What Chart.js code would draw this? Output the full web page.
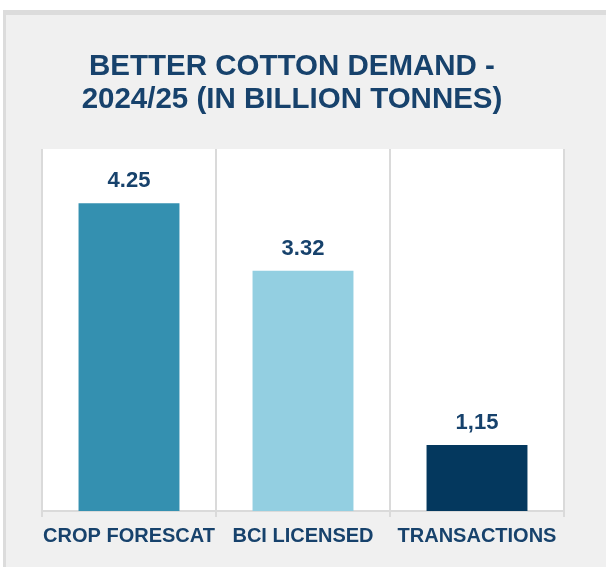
<!DOCTYPE html>
<html>
<head>
<meta charset="utf-8">
<script src="https://cdn.jsdelivr.net/npm/chart.js@4"></script>
<style>
html,body{margin:0;padding:0;background:#ffffff;}
#wrap{width:606px;height:567px;}
</style>
</head>
<body>
<div id="wrap"><canvas id="c" width="606" height="567"></canvas></div>
<script>
const titleLines = ["BETTER COTTON DEMAND -", "2024/25 (IN BILLION TONNES)"];
const categories = ["CROP FORESCAT", "BCI LICENSED", "TRANSACTIONS"];
const values = [4.25, 3.32, 0.91];
const valueLabels = ["4.25", "3.32", "1,15"];
const barColors = ["#3490b0", "#93cfe1", "#04385e"];

const FONT = "'Liberation Sans', Arial, sans-serif";
const TEXT = "#17426c";

const panelPlugin = {
  id: "panel",
  beforeDraw(chart) {
    const ctx = chart.ctx;
    ctx.save();
    ctx.fillStyle = "#ffffff";
    ctx.fillRect(0, 0, chart.width, chart.height);
    ctx.fillStyle = "#dcdcdc";
    ctx.fillRect(3, 10, chart.width - 3, chart.height - 10);
    ctx.fillStyle = "#f0f0f0";
    ctx.fillRect(6, 15, chart.width - 6, chart.height - 15);
    const a = chart.chartArea;
    ctx.fillStyle = "#ffffff";
    ctx.fillRect(a.left, a.top, a.right - a.left, a.bottom - a.top);
    ctx.restore();
  },
  afterDraw(chart) {
    const ctx = chart.ctx;
    ctx.save();
    ctx.fillStyle = TEXT;
    ctx.font = "bold 29.5px " + FONT;
    ctx.textAlign = "center";
    ctx.textBaseline = "middle";
    titleLines.forEach((t, i) => ctx.fillText(t, 292, 67 + i * 33));
    const meta = chart.getDatasetMeta(0);
    ctx.font = "bold 22px " + FONT;
    meta.data.forEach((bar, i) => {
      ctx.fillText(valueLabels[i], bar.x, bar.y - 22);
    });
    ctx.restore();
  }
};

new Chart(document.getElementById("c"), {
  type: "bar",
  data: {
    labels: categories,
    datasets: [{
      data: values,
      backgroundColor: barColors,
      borderWidth: 0,
      categoryPercentage: 1,
      barPercentage: 0.58
    }]
  },
  options: {
    responsive: false,
    animation: false,
    devicePixelRatio: 1,
    layout: { padding: { left: 42, right: 42, top: 149, bottom: 12 } },
    plugins: {
      legend: { display: false },
      title: { display: false },
      tooltip: { enabled: false }
    },
    scales: {
      x: {
        grid: { display: true, color: "#dadada", lineWidth: 2, tickLength: 6, offset: true },
        border: { display: true, color: "#dadada", width: 2 },
        ticks: { color: TEXT, padding: 7, maxRotation: 0, minRotation: 0, autoSkip: false,
                 font: { family: FONT, size: 20, weight: "bold" } }
      },
      y: {
        display: false,
        min: 0,
        max: 5
      }
    }
  },
  plugins: [panelPlugin]
});
</script>
</body>
</html>
